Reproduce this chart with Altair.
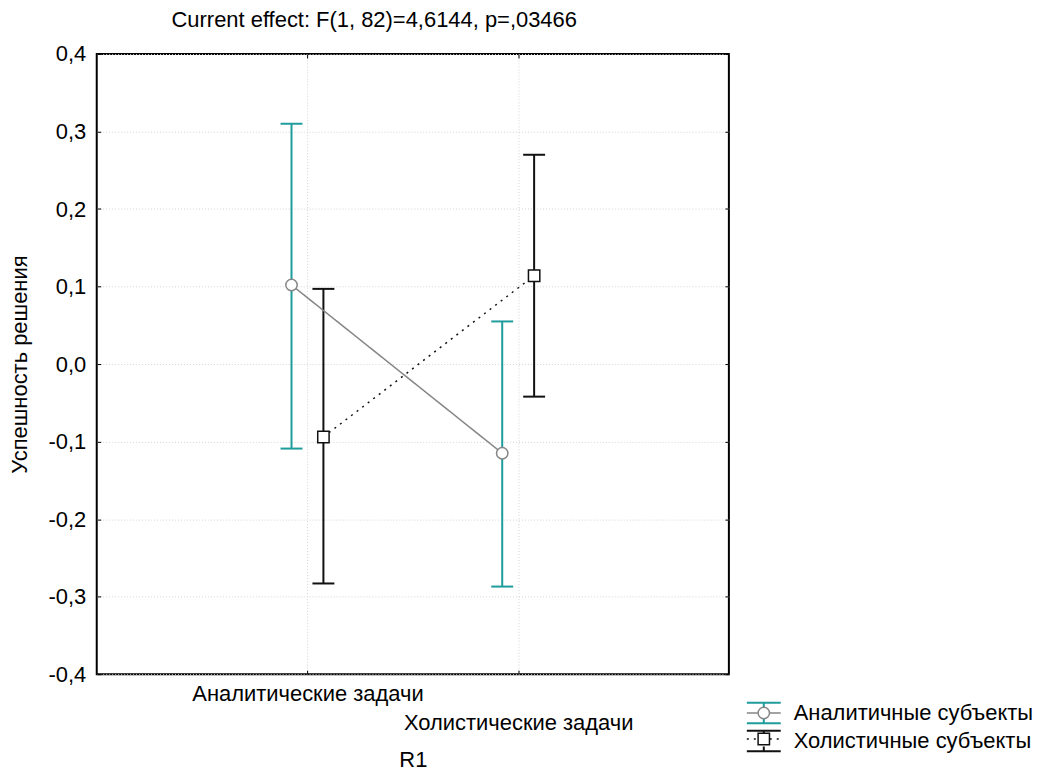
import altair as alt
import pandas as pd

# ---------------- data ----------------
tasks = ["Аналитические задачи", "Холистические задачи"]
groups = ["Аналитичные субъекты", "Холистичные субъекты"]

analytic_mean = [0.102, -0.115]
analytic_upper = [0.310, 0.055]
analytic_lower = [-0.109, -0.287]

holistic_mean = [-0.094, 0.114]
holistic_upper = [0.097, 0.270]
holistic_lower = [-0.283, -0.042]

y_ticks = [-0.4, -0.3, -0.2, -0.1, 0.0, 0.1, 0.2, 0.3, 0.4]

title_text = "Current effect: F(1, 82)=4,6144, p=,03466"
y_title = "Успешность решения"
x_title = "R1"

rows = []
for g, means, ups, lows in [
    (groups[0], analytic_mean, analytic_upper, analytic_lower),
    (groups[1], holistic_mean, holistic_upper, holistic_lower),
]:
    for t, m, u, l in zip(tasks, means, ups, lows):
        rows.append({"task": t, "group": g, "mean": m, "upper": u, "lower": l})
df = pd.DataFrame(rows)

# ---------------- style ----------------
FONT = "Liberation Sans"
FS = 22
TEAL = "#1f9c9c"
GRAY = "#858585"
BLACK = "#111111"
GRID = "#d4d4d4"

x_scale = alt.Scale(type="point", padding=1, domain=tasks)
y_scale = alt.Scale(domain=[-0.4, 0.4], nice=False, zero=False)
xoff = alt.XOffset("group:N", scale=alt.Scale(type="point", padding=0, domain=groups, range=[-16, 16]))

x_axis_bottom = alt.Axis(
    title=x_title, orient="bottom", offset=-4, tickSize=4, tickColor="black", tickWidth=1,
    domain=False, grid=True, gridColor=GRID, gridDash=[1, 2], gridWidth=1,
    labelAngle=0, labelFont=FONT, labelFontSize=FS, labelColor="black", labelPadding=9,
    labelLineHeight=30, labelOverlap=False, labelLimit=0,
    labelExpr=f"datum.value == '{tasks[1]}' ? ['', datum.label] : datum.label",
    titleFont=FONT, titleFontSize=FS, titleFontWeight="normal", titleColor="black", titlePadding=16,
)
y_axis_left = alt.Axis(
    title=y_title, orient="left", offset=-4, tickSize=4, tickColor="black", tickWidth=1,
    domain=False, values=y_ticks, grid=True, gridColor=GRID, gridDash=[1, 2], gridWidth=1,
    labelExpr="(datum.value < -1e-9 ? '-' : '') + replace(format(abs(datum.value), '.1f'), '.', ',')",
    labelFont=FONT, labelFontSize=FS, labelColor="black", labelPadding=11,
    titleFont=FONT, titleFontSize=FS, titleFontWeight="normal", titleColor="black", titlePadding=17,
)
x_axis_top = alt.Axis(
    title=None, orient="top", offset=-4, tickSize=4, tickColor="black", tickWidth=1,
    domain=False, grid=False, labels=False,
)
y_axis_right = alt.Axis(
    title=None, orient="right", offset=-4, tickSize=4, tickColor="black", tickWidth=1,
    domain=False, grid=False, labels=False, values=y_ticks,
)

LEG_X = 652
LEG_Y = 650
CAP_PATH = ("M-1.7,-1.13L1.7,-1.13L1.7,-0.93L-1.7,-0.93Z "
            "M-1.7,0.93L1.7,0.93L1.7,1.13L-1.7,1.13Z "
            "M-0.1,-0.93L0.1,-0.93L0.1,-0.56L-0.1,-0.56Z "
            "M-0.1,0.56L0.1,0.56L0.1,0.93L-0.1,0.93Z")
GAPLINE_PATH = "M-1.7,0L-0.6,0M0.6,0L1.7,0"

common_leg = dict(
    title=None, orient="none", legendX=LEG_X, legendY=LEG_Y, padding=0,
    labelFont=FONT, labelFontSize=FS, labelColor="black", labelLimit=0,
    rowPadding=4, symbolOffset=6, labelOffset=19,
)
legend_bars = alt.Legend(symbolType=CAP_PATH, symbolSize=400, symbolStrokeWidth=0, **common_leg)
legend_line = alt.Legend(symbolType=GAPLINE_PATH, symbolSize=400, symbolStrokeWidth=1.5,
                         labelOpacity=0, **common_leg)
legend_pts = alt.Legend(symbolSize=130, symbolStrokeWidth=1.5, symbolFillColor="white",
                        labelOpacity=0, **common_leg)

base = alt.Chart(df).transform_calculate(g2="datum.group", g3="datum.group")

bar_fill = alt.Fill("group:N", scale=alt.Scale(range=[TEAL, BLACK]), legend=legend_bars)

vbars = base.mark_bar(width=2).encode(
    x=alt.X("task:N", scale=x_scale, axis=x_axis_bottom),
    xOffset=xoff,
    y=alt.Y("lower:Q", scale=y_scale, axis=y_axis_left),
    y2="upper:Q",
    fill=bar_fill,
)

cap_up = base.mark_tick(size=22, thickness=2, opacity=1).encode(
    x=alt.X("task:N", scale=x_scale, axis=x_axis_top),
    xOffset=xoff,
    y=alt.Y("upper:Q", scale=y_scale, axis=y_axis_right),
    fill=bar_fill,
)
cap_lo = base.mark_tick(size=22, thickness=2, opacity=1).encode(
    x=alt.X("task:N", scale=x_scale, axis=None),
    xOffset=xoff,
    y=alt.Y("lower:Q", scale=y_scale, axis=None),
    fill=bar_fill,
)

lines = base.mark_line(strokeWidth=1.5).encode(
    x=alt.X("task:N", scale=x_scale, axis=None),
    xOffset=xoff,
    y=alt.Y("mean:Q", scale=y_scale, axis=None),
    stroke=alt.Stroke("g2:N", scale=alt.Scale(range=[GRAY, BLACK]), legend=legend_line),
    strokeDash=alt.StrokeDash("g2:N", scale=alt.Scale(range=[[1, 0], [2, 5]]), legend=legend_line),
)

points = base.mark_point(filled=False, fill="white", size=130, strokeWidth=1.5, opacity=1).encode(
    x=alt.X("task:N", scale=x_scale, axis=None),
    xOffset=xoff,
    y=alt.Y("mean:Q", scale=y_scale, axis=None),
    color=alt.Color("g3:N", scale=alt.Scale(range=[GRAY, BLACK]), legend=legend_pts),
    shape=alt.Shape("g3:N", scale=alt.Scale(range=["circle", "square"]), legend=legend_pts),
)

chart = (
    alt.layer(vbars, cap_up, cap_lo, lines, points)
    .resolve_axis(x="independent", y="independent")
    .properties(
        width=634,
        height=622,
        padding={"left": 89, "top": 45, "right": 305, "bottom": 97},
        autosize=alt.AutoSizeParams(type="none"),
        background="white",
        title=alt.TitleParams(
            title_text, anchor="start", frame="group", dx=75, offset=11,
            font=FONT, fontSize=FS, fontWeight="normal", color="black",
        ),
    )
    .configure_view(stroke="black", strokeWidth=2)
)

chart.save("out.html", embed_options={"renderer": "svg", "actions": False})
